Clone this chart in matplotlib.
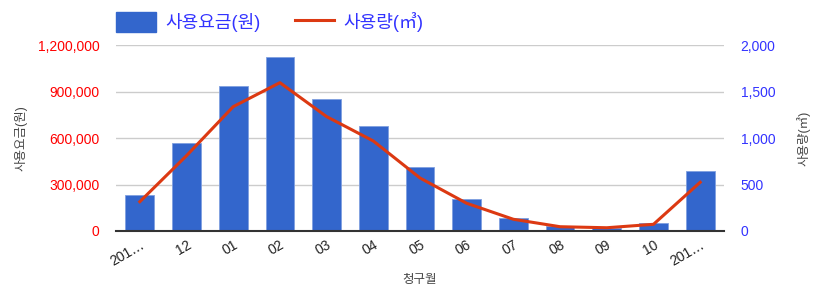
import matplotlib
matplotlib.use("Agg")
import matplotlib.pyplot as plt
import matplotlib.ticker as mticker
from matplotlib.patches import Patch
from matplotlib.lines import Line2D

plt.rcParams['font.family'] = ['Liberation Sans', 'Noto Sans CJK KR', 'DejaVu Sans']

months = ['201…', '12', '01', '02', '03', '04', '05', '06', '07', '08', '09', '10', '201…']
fee = [232000, 566000, 935000, 1122000, 851000, 677000, 415000, 204000, 84000, 32000, 20000, 50000, 385000]
usage = [315, 810, 1337, 1595, 1230, 968, 570, 298, 126, 46, 35, 72, 524]

bar_c = '#3366cc'
line_c = '#dc3912'

fig = plt.figure(figsize=(8.15, 2.86), dpi=100)
ax = fig.add_axes([116/815, 1-231/286, (724-116)/815, (231-45)/286])
x = range(len(months))
ax.bar(x, fee, width=0.615, color=bar_c, edgecolor='#7f9fe0', linewidth=0.6, zorder=2)
ax.set_ylim(0, 1200000)
ax.set_xlim(-0.51, len(months)-0.49)
ax.yaxis.set_major_locator(mticker.MultipleLocator(300000))
ax.yaxis.set_major_formatter(mticker.FuncFormatter(lambda v, p: f'{int(v):,}'))
ax.grid(axis='y', color='#cccccc', linewidth=1, zorder=0)
ax.set_axisbelow(True)
for s in ['top', 'right', 'left']:
    ax.spines[s].set_visible(False)
ax.spines['bottom'].set_color('#333333')
ax.spines['bottom'].set_linewidth(1.5)
ax.spines['bottom'].set_zorder(5)
ax.tick_params(axis='y', length=0, labelcolor='#ff0000', labelsize=10, pad=12)
ax.tick_params(axis='x', length=0, labelsize=10, labelcolor='#222222', pad=5)
ax.set_xticks(list(x))
ax.set_xticklabels(months, rotation=30, ha='right', rotation_mode='anchor')
ax.set_ylabel('사용요금(원)', color='#444444', fontsize=9)
ax.yaxis.set_label_coords(-0.146, 0.5)
ax.set_xlabel('청구월', color='#444444', fontsize=9, style='italic')
ax.xaxis.set_label_coords(0.5, -0.23)

ax2 = ax.twinx()
ax2.plot(list(x), usage, color=line_c, linewidth=2.2, zorder=3)
ax2.set_ylim(0, 2000)
ax2.yaxis.set_major_locator(mticker.MultipleLocator(500))
ax2.yaxis.set_major_formatter(mticker.FuncFormatter(lambda v, p: f'{int(v):,}'))
for s in ['top', 'right', 'left', 'bottom']:
    ax2.spines[s].set_visible(False)
ax2.tick_params(axis='y', length=0, labelcolor='#3333ff', labelsize=10, pad=12)
ax2.set_ylabel('사용량(㎥)', color='#444444', fontsize=9, rotation=90)
ax2.yaxis.set_label_coords(1.12, 0.5)

handles = [Patch(color=bar_c), Line2D([0], [0], color=line_c, linewidth=2.2)]
fig.legend(handles, ['사용요금(원)', '사용량(㎥)'], loc='upper left',
           bbox_to_anchor=(100/815, 1.015), ncol=2, frameon=False,
           fontsize=13, labelcolor='#3333ff', handlelength=2.2, handleheight=1.3,
           columnspacing=1.9, handletextpad=0.5)

fig.savefig('out.png', dpi=100)
